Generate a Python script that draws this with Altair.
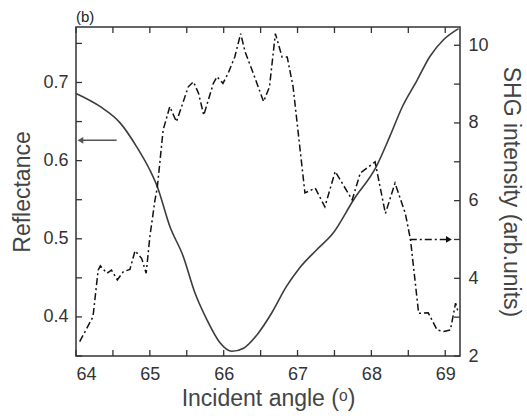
import altair as alt
import pandas as pd

# Reflectance (left axis)
refl_x = [64.00, 64.33, 64.60, 64.82, 65.00, 65.10, 65.27, 65.45, 65.61, 65.77, 65.95,
          66.11, 66.27, 66.45, 66.65, 66.85, 67.03, 67.26, 67.48, 67.76, 68.07, 68.25,
          68.41, 68.62, 68.79, 68.98, 69.18]
refl_y = [0.686, 0.669, 0.648, 0.618, 0.588, 0.567, 0.516, 0.478, 0.431, 0.397, 0.367,
          0.356, 0.360, 0.377, 0.405, 0.439, 0.463, 0.486, 0.507, 0.550, 0.593, 0.631,
          0.667, 0.703, 0.733, 0.755, 0.769]

# SHG intensity (right axis)
shg_x = [64.05, 64.23, 64.30, 64.33, 64.42, 64.48, 64.56, 64.64, 64.73, 64.80, 64.89,
         64.95, 65.00, 65.07, 65.10, 65.18, 65.27, 65.36, 65.43, 65.52, 65.59, 65.66,
         65.73, 65.86, 65.91, 65.99, 66.06, 66.15, 66.23, 66.29, 66.40, 66.54, 66.62,
         66.70, 66.79, 66.86, 66.94, 67.04, 67.10, 67.24, 67.37, 67.51, 67.74, 67.85,
         68.05, 68.19, 68.32, 68.46, 68.53, 68.64, 68.77, 68.89, 68.98, 69.07, 69.14, 69.18]
shg_y = [2.37, 3.01, 4.21, 4.32, 4.13, 4.21, 3.96, 4.17, 4.23, 4.71, 4.51,
         4.13, 5.07, 6.02, 6.32, 7.82, 8.42, 8.03, 8.42, 8.93, 9.06, 8.76,
         8.20, 9.02, 9.19, 9.02, 9.28, 9.70, 10.30, 9.83, 9.28, 8.55, 8.93,
         10.30, 9.70, 9.70, 8.93, 7.22, 6.20, 6.32, 5.84, 6.75, 6.02, 6.71,
         7.00, 5.67, 6.45, 5.67, 4.99, 3.10, 3.11, 2.67, 2.63, 2.67, 3.36, 3.10]

# Arrow annotations (data coordinates)
left_arrow_x = [64.55, 64.06]
left_arrow_y = [0.626, 0.626]
right_arrow_x = [68.52, 69.05]
right_arrow_y = [5.0, 5.0]

x_ticks = [64, 64.5, 65, 65.5, 66, 66.5, 67, 67.5, 68, 68.5, 69]
left_ticks = [0.35, 0.4, 0.45, 0.5, 0.55, 0.6, 0.65, 0.7, 0.75]
right_ticks = [2, 3, 4, 5, 6, 7, 8, 9, 10]

x_domain = [64, 69.2]
left_domain = [0.35, 0.771]
right_domain = [2, 10.47]

refl_df = pd.DataFrame({"x": refl_x, "y": refl_y})
shg_df = pd.DataFrame({"x": shg_x, "y": shg_y})
la_df = pd.DataFrame({"x": left_arrow_x, "y": left_arrow_y})
ra_df = pd.DataFrame({"x": right_arrow_x, "y": right_arrow_y})
# inward tick marks along the frame (drawn as rules inside the plot area)
TL = 6  # tick length in pixels
xt_df = pd.DataFrame({"x": x_ticks * 2,
                      "side": ["b"] * len(x_ticks) + ["t"] * len(x_ticks)})
lt_df = pd.DataFrame({"y": left_ticks})
rt_df = pd.DataFrame({"y": right_ticks})

FONT = "Liberation Sans"
AXC = "#333333"
COMMON = dict(labelFont=FONT, labelFontSize=18, labelColor="#333333",
              titleFont=FONT, titleFontSize=23, titleFontWeight="normal", titleColor="#444444",
              domain=False, ticks=False, grid=False)

W, H = 384, 329
xscale = alt.Scale(domain=x_domain, nice=False, zero=False)
lscale = alt.Scale(domain=left_domain, nice=False, zero=False)
rscale = alt.Scale(domain=right_domain, nice=False, zero=False)

x_bottom = alt.X("x:Q", scale=xscale,
                 axis=alt.Axis(values=x_ticks, orient="bottom", title="Incident angle (ᵒ)",
                               labelExpr="datum.value % 1 == 0 ? format(datum.value, 'd') : ''",
                               labelPadding=9, titlePadding=4, **COMMON))
x_top = alt.X("x:Q", scale=xscale,
              axis=alt.Axis(values=x_ticks, orient="top", title=None, labels=False, **COMMON))
y_left = alt.Y("y:Q", scale=lscale,
               axis=alt.Axis(values=left_ticks, orient="left", title="Reflectance",
                             labelExpr="abs(datum.value*10 - round(datum.value*10)) < 0.001 ? format(datum.value, '.1f') : ''",
                             labelPadding=8, titlePadding=8, **COMMON))
y_right = alt.Y("y:Q", scale=rscale,
                axis=alt.Axis(values=right_ticks, orient="right", title="SHG intensity (arb.units)",
                              labelExpr="datum.value % 2 == 0 ? datum.label : ''",
                              labelPadding=8, titlePadding=10, **COMMON))

xs = alt.X("x:Q", scale=xscale)
yl = alt.Y("y:Q", scale=lscale)
yr = alt.Y("y:Q", scale=rscale)

refl_line = alt.Chart(refl_df).mark_line(color="#3c3c3c", strokeWidth=1.6,
                                          interpolate="monotone").encode(x=x_bottom, y=y_left)
la_line = alt.Chart(la_df).mark_line(color="#555555", strokeWidth=1.6).encode(x=xs, y=yl)
la_head = alt.Chart(la_df.iloc[[1]]).mark_point(shape="triangle-left", filled=True,
                                                  color="#555555", size=45, opacity=1).encode(x=xs, y=yl)
# tick rules: position along the axis from the tick values, length is a fixed pixel size
xt_b = alt.Chart(xt_df[xt_df.side == "b"]).mark_rule(color=AXC, strokeWidth=1.3).encode(
    x=xs, y=alt.value(H), y2=alt.value(H - TL))
xt_t = alt.Chart(xt_df[xt_df.side == "t"]).mark_rule(color=AXC, strokeWidth=1.3).encode(
    x=xs, y=alt.value(0), y2=alt.value(TL))
lt = alt.Chart(lt_df).mark_rule(color=AXC, strokeWidth=1.3).encode(
    y=yl, x=alt.value(0), x2=alt.value(TL))
left = alt.layer(refl_line, la_line, la_head, xt_b, xt_t, lt)

shg_line = alt.Chart(shg_df).mark_line(color="#111111", strokeWidth=1.5,
                                        strokeDash=[7, 3, 2, 3]).encode(x=x_top, y=y_right)
ra_line = alt.Chart(ra_df).mark_line(color="#111111", strokeWidth=1.5,
                                      strokeDash=[7, 3, 2, 3]).encode(x=xs, y=yr)
ra_head = alt.Chart(ra_df.iloc[[1]]).mark_point(shape="triangle-right", filled=True,
                                                 color="#111111", size=45, opacity=1).encode(x=xs, y=yr)
rt = alt.Chart(rt_df).mark_rule(color=AXC, strokeWidth=1.3).encode(
    y=yr, x=alt.value(W - TL), x2=alt.value(W))
right = alt.layer(shg_line, ra_line, ra_head, rt)

chart = alt.layer(left, right).resolve_scale(y="independent").resolve_axis(
    x="independent", y="independent"
).properties(
    width=W, height=H,
    background="white",
    title=alt.Title("(b)", anchor="start", frame="group", fontSize=15, fontWeight="normal",
                    font=FONT, color="#222222", offset=0),
    autosize=alt.AutoSizeParams(type="none"),
    padding={"left": 76, "top": 27, "right": 67, "bottom": 60},
).configure_view(stroke=AXC, strokeWidth=1.5)

chart.save("out.html", embed_options={"renderer": "svg", "actions": False})
